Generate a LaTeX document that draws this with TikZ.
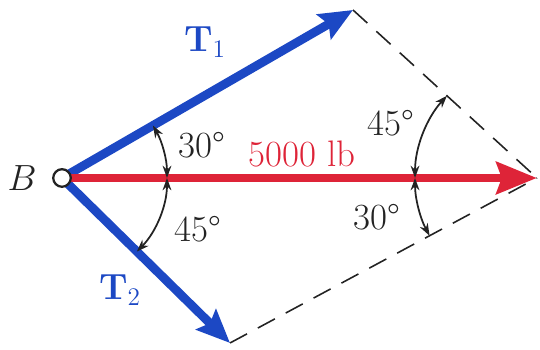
\documentclass[tikz,border=0pt]{standalone}
\usetikzlibrary{arrows.meta}
\definecolor{fblue}{RGB}{28,72,196}
\definecolor{fred}{RGB}{222,36,56}
\definecolor{ink}{RGB}{35,35,35}
\begin{document}
\begin{tikzpicture}[x=0.02cm,y=0.02cm,
  lbl/.style={font=\fontsize{21}{24}\selectfont, text=ink, inner sep=0pt},
  bluevec/.style={draw=fblue, line width=5pt, -{Stealth[length=19pt,width=16pt,inset=3pt]}},
  redvec/.style={draw=fred, line width=5pt, -{Stealth[length=23pt,width=18pt,inset=3pt]}},
  dashline/.style={draw=ink, line width=0.9pt, dash pattern=on 11pt off 7pt},
  anglearc/.style={draw=ink, line width=1pt, {Stealth[length=7pt,width=5pt]}-{Stealth[length=7pt,width=5pt]}}
]
\useasboundingbox (0,0) rectangle (540,350);
\coordinate (B) at (62,172);
\coordinate (T1) at (353,340);
\coordinate (R) at (537,172);
\coordinate (T2) at (230,7);
% dashed parallelogram sides
\draw[dashline] (T1) -- (R);
\draw[dashline] (T2) -- (R);
% vectors
\draw[bluevec] (B) -- (T1);
\draw[bluevec] (B) -- (T2);
\draw[redvec] ([xshift=4pt]B) -- (R);
\node[circle, draw=ink, fill=white, line width=1.3pt, minimum size=10pt, inner sep=0pt] (Bc) at (B) {};
% angle arcs
\draw[anglearc] ([shift={(30:2.1cm)}]B) arc[start angle=30, end angle=0, radius=2.1cm];
\draw[anglearc] ([shift={(0:2.1cm)}]B) arc[start angle=0, end angle=-44.5, radius=2.1cm];
\draw[anglearc] ([shift={(137.6:2.44cm)}]R) arc[start angle=137.6, end angle=180, radius=2.44cm];
\draw[anglearc] ([shift={(180:2.44cm)}]R) arc[start angle=180, end angle=208.3, radius=2.44cm];
% labels
\node[lbl] (lB) at (22,172) {$B$};
\node[lbl, text=fblue] (lT1) at (205,308) {$\mathbf{T}_1$};
\node[lbl, text=fblue] (lT2) at (120,60) {$\mathbf{T}_2$};
\node[lbl, text=fred] (lF) at (302,196) {5000 lb};
\node[lbl] (a1) at (202,205) {30\textdegree};
\node[lbl] (a2) at (198,121) {45\textdegree};
\node[lbl] (a3) at (391,227) {45\textdegree};
\node[lbl] (a4) at (377,133) {30\textdegree};
\end{tikzpicture}
\end{document}
